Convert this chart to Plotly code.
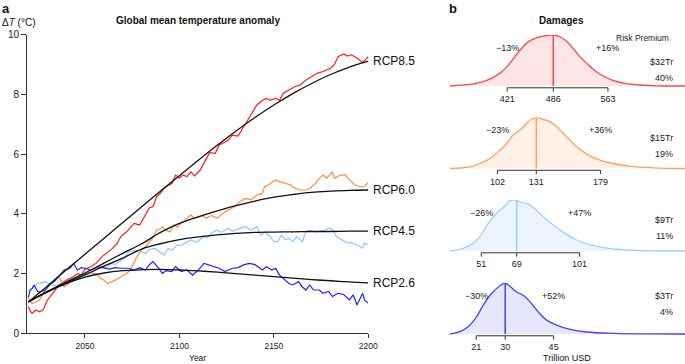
import plotly.graph_objects as go

W, H = 685, 364

# ---------------- Panel a data ----------------
fit_years = [2020, 2030, 2040, 2050, 2060, 2070, 2080, 2090, 2100, 2110,
             2120, 2130, 2140, 2150, 2160, 2170, 2180, 2190, 2200]
fit_rcp85 = [1.05, 1.58, 2.12, 2.65, 3.18, 3.71, 4.24, 4.77, 5.28, 5.8,
             6.3, 6.78, 7.23, 7.65, 8.03, 8.37, 8.67, 8.92, 9.12]
fit_rcp60 = [1.05, 1.4, 1.72, 2.02, 2.35, 2.68, 3.0, 3.38, 3.68, 3.9,
             4.1, 4.28, 4.43, 4.56, 4.65, 4.72, 4.76, 4.79, 4.8]
fit_rcp45 = [1.05, 1.4, 1.68, 1.96, 2.25, 2.52, 2.82, 3.0, 3.14, 3.23,
             3.3, 3.35, 3.38, 3.39, 3.4, 3.41, 3.41, 3.42, 3.42]
fit_rcp26 = [1.05, 1.38, 1.66, 1.88, 2.02, 2.1, 2.13, 2.14, 2.12, 2.09,
             2.05, 2.0, 1.95, 1.9, 1.85, 1.8, 1.76, 1.72, 1.69]

sim_rcp85 = [(2020,0.9),(2021,0.75),(2022,0.67),(2024,0.78),(2026,0.72),(2028,0.8),(2030,1.1),
             (2032,1.25),(2034,1.43),(2036,1.62),(2038,1.7),(2041,1.81),(2044,1.9),(2046,2.0),
             (2048,1.95),(2050,2.15),(2053,2.23),(2056,2.35),(2059,2.57),(2062,2.7),(2064,2.81),
             (2067,3.0),(2069,3.24),(2072,3.4),(2074,3.55),(2076,3.68),(2079,3.63),(2082,3.96),
             (2084,4.2),(2086,4.25),(2088,4.58),(2090,4.7),(2092,4.86),(2094,4.95),(2096,5.02),
             (2098,5.3),(2100,5.2),(2102,5.3),(2104,5.25),(2106,5.41),(2108,5.27),(2111,5.47),
             (2114,5.85),(2116,6.05),(2119,6.03),(2121,6.31),(2124,6.4),(2126,6.48),(2128,6.64),
             (2131,6.61),(2134,6.92),(2136,7.14),(2138,7.31),(2141,7.65),(2144,7.81),(2146,7.87),
             (2148,7.81),(2151,7.87),(2153,7.81),(2155,8.04),(2158,8.15),(2161,8.26),(2164,8.32),
             (2167,8.49),(2170,8.6),(2173,8.71),(2176,8.77),(2180,8.88),(2182,9.0),(2184,9.27),
             (2187,9.36),(2189,9.29),(2191,9.33),(2194,9.22),(2197,9.07),(2199,9.22),(2200,9.27)]
sim_rcp60 = [(2020,1.17),(2022,1.0),(2024,1.05),(2026,1.12),(2028,1.35),(2030,1.56),(2032,1.65),
             (2034,1.78),(2036,1.9),(2038,1.7),(2039,1.56),(2041,1.65),(2043,1.78),(2045,1.85),
             (2047,1.9),(2050,1.98),(2052,2.05),(2054,2.0),(2056,2.0),(2058,1.85),(2060,1.78),
             (2062,1.67),(2064,1.72),(2066,1.78),(2068,1.85),(2070,1.92),(2072,2.0),(2074,2.12),
             (2076,2.4),(2078,2.62),(2080,2.79),(2082,2.9),(2084,3.05),(2086,3.2),(2088,3.46),
             (2090,3.5),(2091,3.57),(2093,3.45),(2095,3.4),(2097,3.63),(2099,3.55),(2101,3.7),
             (2103,3.8),(2105,3.9),(2106,3.96),(2108,3.85),(2110,3.9),(2112,3.96),(2114,3.85),
             (2117,3.95),(2120,3.85),(2123,4.02),(2126,4.13),(2129,4.24),(2132,4.41),(2135,4.52),
             (2138,4.47),(2141,4.63),(2144,4.69),(2145,4.91),(2147,4.97),(2149,5.05),(2151,5.14),
             (2153,5.08),(2156,5.02),(2159,4.97),(2161,4.86),(2164,4.8),(2167,4.8),(2169,4.86),
             (2172,5.02),(2174,5.19),(2176,5.3),(2178,5.2),(2181,5.41),(2182,5.19),(2185,5.3),
             (2188,5.3),(2190,5.14),(2193,4.97),(2196,4.91),(2198,4.91),(2200,5.05)]
sim_rcp45 = [(2020,1.4),(2022,1.5),(2025,1.67),(2027,1.7),(2029,1.73),(2032,1.62),(2035,1.6),
             (2038,1.67),(2040,1.72),(2043,1.79),(2046,1.85),(2048,1.95),(2051,1.95),(2053,2.0),
             (2055,2.1),(2057,2.18),(2060,2.2),(2062,2.23),(2064,2.34),(2066,2.3),(2068,2.4),
             (2071,2.51),(2073,2.73),(2075,2.75),(2077,2.79),(2080,2.73),(2082,2.68),(2084,2.8),
             (2087,2.85),(2089,2.75),(2091,2.68),(2092,2.62),(2094,2.85),(2096,2.78),(2099,2.96),
             (2101,2.95),(2103,3.02),(2106,3.13),(2109,3.05),(2113,3.24),(2115,3.2),(2117,3.35),
             (2120,3.46),(2122,3.38),(2126,3.52),(2128,3.42),(2131,3.5),(2135,3.57),(2138,3.45),
             (2141,3.57),(2143,3.29),(2145,3.4),(2147,3.3),(2148,3.24),(2150,3.07),(2152,3.07),
             (2154,3.29),(2156,3.13),(2158,3.18),(2160,3.07),(2162,3.24),(2165,3.07),(2167,3.4),
             (2169,3.46),(2172,3.4),(2175,3.42),(2177,3.46),(2180,3.52),(2182,3.4),(2183,3.24),
             (2186,3.13),(2189,3.02),(2191,3.04),(2194,2.96),(2197,2.85),(2198,3.02),(2200,2.96)]
sim_rcp26 = [(2020,1.2),(2021,1.45),(2022,1.5),(2023,1.62),(2025,1.39),(2027,1.4),(2029,1.45),
             (2032,1.67),(2034,1.75),(2036,1.9),(2039,2.12),(2042,2.18),(2044,2.34),(2046,2.12),
             (2048,2.2),(2050,2.18),(2053,2.12),(2057,2.23),(2060,2.18),(2063,2.15),(2066,2.2),
             (2069,2.18),(2073,2.18),(2076,2.12),(2079,2.2),(2082,2.12),(2084,2.29),(2086,2.4),
             (2089,2.18),(2091,2.01),(2093,2.1),(2096,2.07),(2098,2.23),(2101,2.07),(2104,2.12),
             (2107,1.95),(2110,2.12),(2113,2.34),(2115,2.3),(2118,2.23),(2121,2.18),(2124,2.07),
             (2128,2.18),(2131,2.2),(2134,2.29),(2137,2.34),(2140,2.3),(2144,2.12),(2146,2.23),
             (2149,2.12),(2151,2.18),(2153,1.95),(2155,1.84),(2158,1.67),(2160,1.62),(2163,1.73),
             (2165,1.56),(2167,1.45),(2169,1.62),(2171,1.45),(2174,1.45),(2176,1.34),(2179,1.4),
             (2181,1.23),(2184,1.34),(2187,1.3),(2190,1.12),(2192,1.29),(2194,0.95),(2197,1.34),
             (2198,1.12),(2200,1.01)]

scenario_names = ["RCP8.5", "RCP6.0", "RCP4.5", "RCP2.6"]
x_ticks_a = [2050, 2100, 2150, 2200]
y_ticks_a = [0, 2, 4, 6, 8, 10]

# ---------------- Panel b data ----------------
dens_rcp85 = [(340.5,0),(373.3,0.04),(387.4,0.085),(401.5,0.17),(413.3,0.28),(422.6,0.41),
              (432,0.575),(441.5,0.74),(450.8,0.87),(460.2,0.935),(471.9,0.98),(486,1.0),
              (493,0.98),(502.5,0.902),(511.9,0.77),(521.2,0.61),(533,0.444),(544.7,0.3),
              (556.4,0.196),(570.5,0.105),(587,0.052),(608,0.02),(631.6,0.003),(671.5,0)]
dens_rcp60 = [(66.6,0),(81.5,0.033),(89,0.098),(96.4,0.196),(102.6,0.327),(108.9,0.49),
              (113.8,0.654),(120.1,0.784),(125,0.915),(128.8,0.98),(131.3,1.0),(136.2,0.96),
              (140,0.935),(145,0.85),(150,0.72),(154.9,0.59),(161.1,0.425),(168.6,0.281),
              (177.3,0.176),(188.5,0.098),(200.9,0.046),(218.3,0.013),(242,0)]
dens_rcp45 = [(35.1,0),(41.8,0.052),(46.9,0.15),(50.3,0.281),(54.5,0.54),(58.8,0.739),
              (63,0.882),(65.6,0.987),(68.1,1.0),(70.7,0.96),(74.9,0.92),(78.3,0.83),
              (82.5,0.673),(87.6,0.51),(93.6,0.346),(99.5,0.216),(106.3,0.118),(115.8,0.052),
              (125,0.02),(138.5,0.003),(154.6,0)]
dens_rcp26 = [(12.9,0),(15.95,0.045),(18.5,0.14),(21.1,0.338),(23.2,0.565),(25.3,0.76),
              (27.3,0.89),(28.9,0.97),(30,1.0),(31.5,0.935),(33.5,0.825),(35.6,0.76),
              (37.7,0.63),(40.2,0.435),(42.8,0.273),(45.9,0.175),(50.1,0.09),(55.2,0.039),
              (63.5,0.013),(73.8,0.002),(85.7,0)]

damage_ticks = [[421, 486, 563], [102, 131, 179], [51, 69, 101], [21, 30, 45]]
damage_pct = [["\u221213%", "+16%"], ["\u221223%", "+36%"], ["\u221226%", "+47%"], ["\u221230%", "+52%"]]
risk_premium = ["$32Tr", "$15Tr", "$9Tr", "$3Tr"]
risk_share = ["40%", "19%", "11%", "4%"]
damage_xrange = [[340.5, 671.5], [66.6, 242], [35.1, 154.6], [12.9, 85.7]]

# ---------------- styling ----------------
FONT = "Liberation Sans, Arial, sans-serif"
sim_colors = ["#ff1a1a", "#ff8a3d", "#8cc6ff", "#2222ff"]
dens_line = ["#ff4545", "#ffa05a", "#9cd0ff", "#4040ff"]
dens_fill = ["rgba(255,60,60,0.13)", "rgba(255,150,70,0.13)", "rgba(120,180,255,0.15)", "rgba(70,70,255,0.13)"]
baselines_px = [86, 168.5, 251, 334]

def px2paper(x, y):
    return x / W, 1 - y / H

fig = go.Figure()

sims = [sim_rcp85, sim_rcp60, sim_rcp45, sim_rcp26]
fits = [fit_rcp85, fit_rcp60, fit_rcp45, fit_rcp26]
for s, c in zip(sims, sim_colors):
    fig.add_trace(go.Scatter(x=[p[0] for p in s], y=[p[1] for p in s], mode="lines",
                             line=dict(color=c, width=1.2), showlegend=False,
                             xaxis="x", yaxis="y", hoverinfo="skip"))
for f in fits:
    fig.add_trace(go.Scatter(x=fit_years, y=f, mode="lines",
                             line=dict(color="#111111", width=1.3, shape="spline"),
                             showlegend=False, xaxis="x", yaxis="y", hoverinfo="skip"))

annotations = []
for name, f in zip(scenario_names, fits):
    annotations.append(dict(x=fit_years[-1], y=f[-1], xref="x", yref="y", text=name,
                            showarrow=False, xanchor="left", yanchor="middle", xshift=3,
                            font=dict(size=12, color="#111", family=FONT)))

# panel b subplots
dens_all = [dens_rcp85, dens_rcp60, dens_rcp45, dens_rcp26]
YMIN = -0.12
seg_y, tick_y = -0.035, -0.11
for i in range(4):
    ax = str(i + 2)
    d = dens_all[i]
    dx = [p[0] for p in d]
    dy = [p[1] for p in d]
    fig.add_trace(go.Scatter(x=dx, y=dy, mode="lines", fill="tozeroy",
                             fillcolor=dens_fill[i], line=dict(color=dens_line[i], width=1.3, shape="spline"),
                             showlegend=False, xaxis="x" + ax, yaxis="y" + ax, hoverinfo="skip"))
    t = damage_ticks[i]
    med = t[1]
    hmed = max(dy)
    fig.add_trace(go.Scatter(x=[med, med], y=[0, hmed], mode="lines",
                             line=dict(color=dens_line[i], width=1.5),
                             showlegend=False, xaxis="x" + ax, yaxis="y" + ax, hoverinfo="skip"))
    sx = [t[0], t[-1], None]
    sy = [seg_y, seg_y, None]
    for tv in t:
        sx += [tv, tv, None]
        sy += [seg_y, tick_y, None]
    fig.add_trace(go.Scatter(x=sx, y=sy, mode="lines", line=dict(color="#333333", width=1),
                             showlegend=False, xaxis="x" + ax, yaxis="y" + ax, hoverinfo="skip"))
    annotations.append(dict(x=t[0], y=0.75, xref="x" + ax, yref="y" + ax, text=damage_pct[i][0],
                            showarrow=False, font=dict(size=9, color="#222", family=FONT)))
    annotations.append(dict(x=t[-1], y=0.75, xref="x" + ax, yref="y" + ax, text=damage_pct[i][1],
                            showarrow=False, font=dict(size=9, color="#222", family=FONT)))
    B = baselines_px[i]
    xa, ya = px2paper(675, B - 31)
    annotations.append(dict(x=xa, y=ya, xref="paper", yref="paper", text=risk_premium[i],
                            showarrow=False, xanchor="right", font=dict(size=9, color="#222", family=FONT)))
    xa, ya = px2paper(675, B - 15)
    annotations.append(dict(x=xa, y=ya, xref="paper", yref="paper", text=risk_share[i],
                            showarrow=False, xanchor="right", font=dict(size=9, color="#222", family=FONT)))

def txt(x, y, s, size, bold=False, anchor="center", color="#111"):
    xa, ya = px2paper(x, y)
    if bold:
        s = "<b>" + s + "</b>"
    annotations.append(dict(x=xa, y=ya, xref="paper", yref="paper", text=s, showarrow=False,
                            xanchor=anchor, yanchor="middle", font=dict(size=size, color=color, family=FONT)))

txt(0, 8, "a", 13, bold=True, anchor="left")
txt(447, 8, "b", 13, bold=True, anchor="left")
txt(198, 20, "Global mean temperature anomaly", 10, bold=True)
txt(561, 20, "Damages", 10, bold=True)
txt(0, 22, "\u0394<i>T</i> (\u00b0C)", 10, anchor="left")
txt(197, 358, "Year", 8.5)
txt(567, 358, "Trillion USD", 9)
txt(671, 38, "Risk Premium", 8.5, anchor="right", color="#222")

layout = dict(
    template="none",
    width=W, height=H, margin=dict(l=0, r=0, t=0, b=0, pad=0, autoexpand=False),
    paper_bgcolor="white", plot_bgcolor="rgba(0,0,0,0)",
    font=dict(family=FONT, color="#111"),
    showlegend=False,
    xaxis=dict(domain=[27 / W, 368.3 / W], range=[2019.3, 2200], tickvals=x_ticks_a,
               ticks="outside", ticklen=4, tickwidth=1, tickcolor="#333", automargin=False,
               showline=True, linecolor="#333", linewidth=1, showgrid=False, zeroline=False,
               tickfont=dict(size=8.5, color="#222"), anchor="y"),
    yaxis=dict(domain=[1 - 333.3 / H, 1 - 34.8 / H], range=[0, 10], tickvals=y_ticks_a,
               ticks="outside", ticklen=5, tickwidth=1, tickcolor="#333", automargin=False,
               showline=True, linecolor="#333", linewidth=1, showgrid=False, zeroline=False,
               tickfont=dict(size=10, color="#222"), anchor="x"),
    annotations=annotations,
)
for i in range(4):
    ax = str(i + 2)
    B = baselines_px[i]
    top = B - 51
    bottom = B - YMIN * 51
    layout["xaxis" + ax] = dict(domain=[450 / W, 1.0], range=damage_xrange[i], tickvals=damage_ticks[i],
                                ticks="", showline=False, showgrid=False, zeroline=False, automargin=False,
                                tickfont=dict(size=9, color="#222"), anchor="y" + ax)
    layout["yaxis" + ax] = dict(domain=[1 - bottom / H, 1 - top / H], range=[YMIN, 1.0], automargin=False,
                                visible=False, showgrid=False, zeroline=False, anchor="x" + ax)

fig.update_layout(**layout)
fig.write_html("out.html", config={"displayModeBar": False},
               post_script="document.body.style.margin='0';document.body.style.padding='0';"
                           "document.body.style.overflow='hidden';")
